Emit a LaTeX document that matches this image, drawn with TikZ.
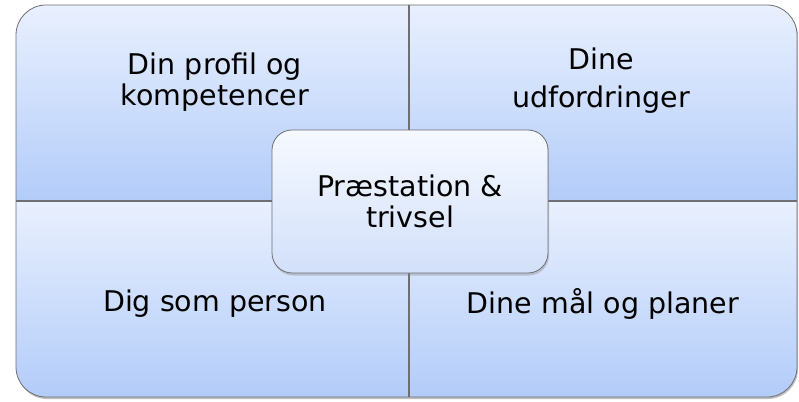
\documentclass[tikz,border=0pt]{standalone}
\usepackage{fontspec}
\setmainfont{DejaVu Sans}
\usetikzlibrary{shadows}
\definecolor{qtop}{RGB}{233,240,254}
\definecolor{qbot}{RGB}{178,204,249}
\definecolor{ctop}{RGB}{246,249,255}
\definecolor{cbot}{RGB}{210,224,250}
\definecolor{edge}{RGB}{110,110,115}
\begin{document}
\begin{tikzpicture}[x=1pt,y=-1pt,line width=.8pt,
  quad/.style={top color=qtop,bottom color=qbot},
  txt/.style={align=center,font=\fontsize{28.5}{31}\selectfont,text=black},
  hub/.style={rounded corners=20pt,top color=ctop,bottom color=cbot,draw=edge,minimum width=276pt,minimum height=143pt,
    drop shadow={opacity=.35,shadow xshift=1pt,shadow yshift=-2.5pt}}]
\useasboundingbox (0,0) rectangle (799,401);
\fill[black,opacity=.25] (17,7) [rounded corners=30pt] rectangle (798,399);
\begin{scope}
\clip[rounded corners=30pt] (16,5) rectangle (797,397);
\shade[quad] (16,5) rectangle (409,201); \shade[quad] (409,5) rectangle (797,201);
\shade[quad] (16,201) rectangle (409,397); \shade[quad] (409,201) rectangle (797,397);
\end{scope}
\draw[edge,rounded corners=30pt] (16,5) rectangle (797,397);
\draw[edge,line width=1.3pt] (409,5)--(409,397); \draw[edge,line width=1.3pt] (16,201)--(797,201);
\node[txt] (profil) at (215,82) {Din profil og\\kompetencer};
\node[txt,font=\fontsize{28.5}{38}\selectfont] (udfordr) at (601,81) {Dine\\udfordringer};
\node[txt] (person) at (215,304) {Dig som person}; \node[txt] (maal) at (603,304) {Dine mål og planer};
\node[hub,txt] (hub) at (410,201.5) {Præstation \&\\trivsel};
\end{tikzpicture}
\end{document}
